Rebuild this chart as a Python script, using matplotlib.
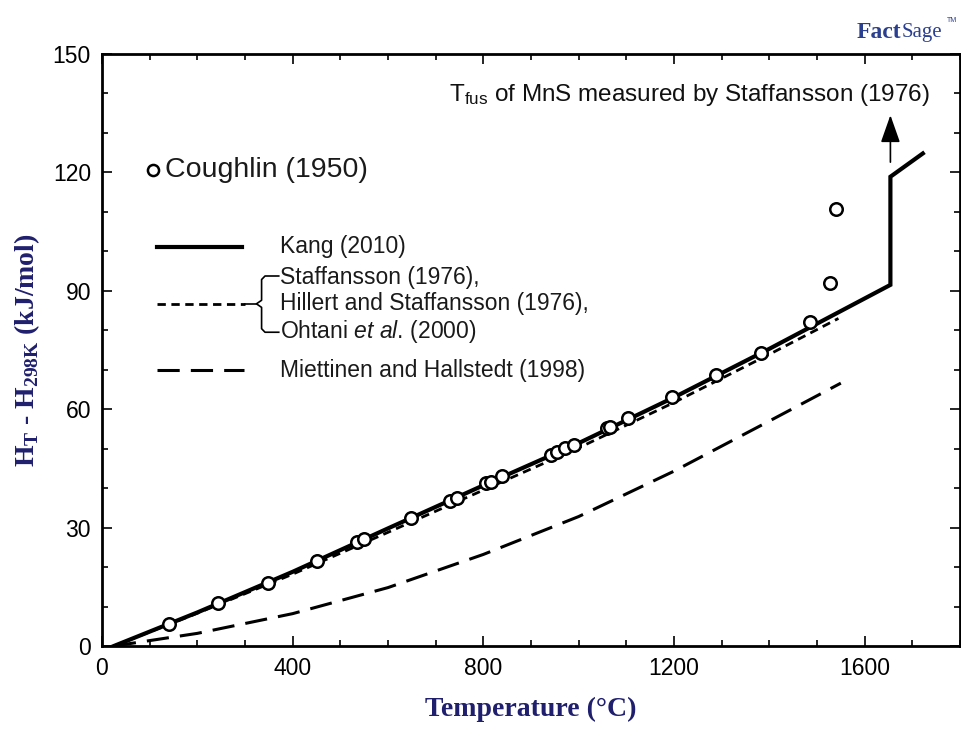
import numpy as np
import matplotlib
matplotlib.use('Agg')
import matplotlib.pyplot as plt
from matplotlib.ticker import MultipleLocator
from matplotlib.lines import Line2D

plt.rcParams['font.family'] = ['Liberation Sans', 'DejaVu Sans']
plt.rcParams['mathtext.fontset'] = 'custom'
plt.rcParams['mathtext.rm'] = 'Liberation Sans'
plt.rcParams['mathtext.it'] = 'Liberation Sans:italic'
plt.rcParams['mathtext.bf'] = 'Liberation Serif:bold'
plt.rcParams['lines.scale_dashes'] = False

NAVY = '#1f1f6e'

# Coughlin (1950) measurements
coughlin_T = [141, 243, 348, 452, 536, 550, 649, 731, 745, 805, 816, 840,
              941, 955, 972, 990, 1060, 1066, 1103, 1196, 1289, 1383, 1486, 1527, 1539]
coughlin_H = [5.6, 10.8, 16.0, 21.6, 26.3, 27.1, 32.5, 36.7, 37.6, 41.2, 41.6, 43.1,
              48.4, 49.2, 50.1, 50.9, 55.2, 55.6, 57.8, 63.0, 68.7, 74.3, 82.2, 92.0, 110.6]

# Kang (2010), with the jump at fusion
kang_T = [25, 200, 400, 600, 800, 1000, 1200, 1400, 1654, 1654, 1722]
kang_H = [0, 8.5, 18.8, 29.8, 40.7, 51.4, 63.0, 75.3, 91.5, 118.9, 124.8]

# Staffansson / Hillert and Staffansson / Ohtani et al.
staff_T = [25, 200, 400, 600, 800, 1000, 1200, 1400, 1545]
staff_H = [0, 8.3, 18.2, 28.8, 39.5, 50.2, 61.7, 73.9, 83.0]

# Miettinen and Hallstedt (1998)
miet_T = [25, 200, 400, 600, 800, 1000, 1200, 1400, 1550]
miet_H = [0, 3.2, 8.2, 14.8, 23.2, 32.8, 44.3, 57.0, 66.6]

T_fus = 1654

fig = plt.figure(figsize=(9.61, 7.30), dpi=100)
ax = fig.add_axes([102/961, 1 - 646/730, 858/961, 592/730])

ax.plot(miet_T, miet_H, color='k', lw=2.2, dashes=(16, 8))
ax.plot(staff_T, staff_H, color='k', lw=2.0, dashes=(6, 4))
ax.plot(kang_T, kang_H, color='k', lw=3.0, solid_joinstyle='miter')
ax.plot(coughlin_T, coughlin_H, 'o', ms=9, mfc='white', mec='k', mew=1.8, zorder=5)

# arrow marking T_fus
ax.annotate('', xy=(T_fus, 134.5), xytext=(T_fus, 122.6),
            arrowprops=dict(arrowstyle='-|>,head_length=0.85,head_width=0.3',
                            mutation_scale=20, lw=1.2, color='k',
                            shrinkA=0, shrinkB=0))
ax.text(1737, 139.6, r'T$_{\mathrm{fus}}$ of MnS measured by Staffansson (1976)',
        ha='right', va='center', fontsize=17.5, color='#111111')

ax.set_xlim(0, 1800)
ax.set_ylim(0, 150)
ax.xaxis.set_major_locator(MultipleLocator(400))
ax.xaxis.set_minor_locator(MultipleLocator(100))
ax.yaxis.set_major_locator(MultipleLocator(30))
ax.yaxis.set_minor_locator(MultipleLocator(10))
ax.tick_params(which='both', direction='in', top=True, right=True, width=1.2)
ax.tick_params(which='major', length=7, labelsize=16.5, pad=8)
ax.tick_params(which='minor', length=4)
for s in ax.spines.values():
    s.set_linewidth(2.0)

ax.set_xlabel('Temperature (°C)', family='Liberation Serif', weight='bold',
              fontsize=20, color=NAVY, labelpad=12)
ax.set_ylabel(r'H$_{\mathbf{T}}$ - H$_{\mathbf{298K}}$ (kJ/mol)', family='Liberation Serif',
              weight='bold', fontsize=20, color=NAVY, labelpad=8)

# hand-made legend
tr = ax.transAxes
txt_kw = dict(fontsize=16.5, color='#1a1a1a', va='center', transform=tr)
ax.plot([0.0594], [0.804], 'o', ms=8, mfc='white', mec='k', mew=1.8, transform=tr, clip_on=False)
ax.text(0.0734, 0.804, 'Coughlin (1950)', fontsize=20.5, color='#1a1a1a', va='center', transform=tr)

ax.add_line(Line2D([0.064, 0.163], [0.674, 0.674], color='k', lw=3.0, transform=tr))
ax.text(0.2075, 0.674, 'Kang (2010)', **txt_kw)

ax.add_line(Line2D([0.064, 0.167], [0.578, 0.578], color='k', lw=2.0, dashes=(6, 4), transform=tr))
ax.text(0.2075, 0.623, 'Staffansson (1976),', **txt_kw)
ax.text(0.2075, 0.578, 'Hillert and Staffansson (1976),', **txt_kw)
ax.text(0.2075, 0.532, r'Ohtani $et$ $al$. (2000)', **txt_kw)
# bracket
bx = [0.206, 0.190, 0.186, 0.186, 0.180, 0.186, 0.186, 0.190, 0.206]
by = [0.625, 0.625, 0.619, 0.584, 0.578, 0.572, 0.536, 0.530, 0.530]
ax.add_line(Line2D(bx, by, color='k', lw=1.2, transform=tr))
ax.add_line(Line2D([0.167, 0.180], [0.578, 0.578], color='k', lw=1.2, transform=tr))

ax.add_line(Line2D([0.064, 0.165], [0.466, 0.466], color='k', lw=2.2, dashes=(16, 8), transform=tr))
ax.text(0.2075, 0.466, 'Miettinen and Hallstedt (1998)', **txt_kw)

# logo text
fig.text(0.938, 0.955, 'Fact', fontsize=17, weight='bold', color='#2a3f8f',
         ha='right', va='center', family='Liberation Serif')
fig.text(0.938, 0.955, 'Sage', fontsize=15, color='#2a3f8f', ha='left', va='center',
         family='Liberation Serif')
fig.text(0.985, 0.972, 'TM', fontsize=5, color='#2a3f8f', ha='left', va='center')

fig.savefig('out.png', dpi=100)
